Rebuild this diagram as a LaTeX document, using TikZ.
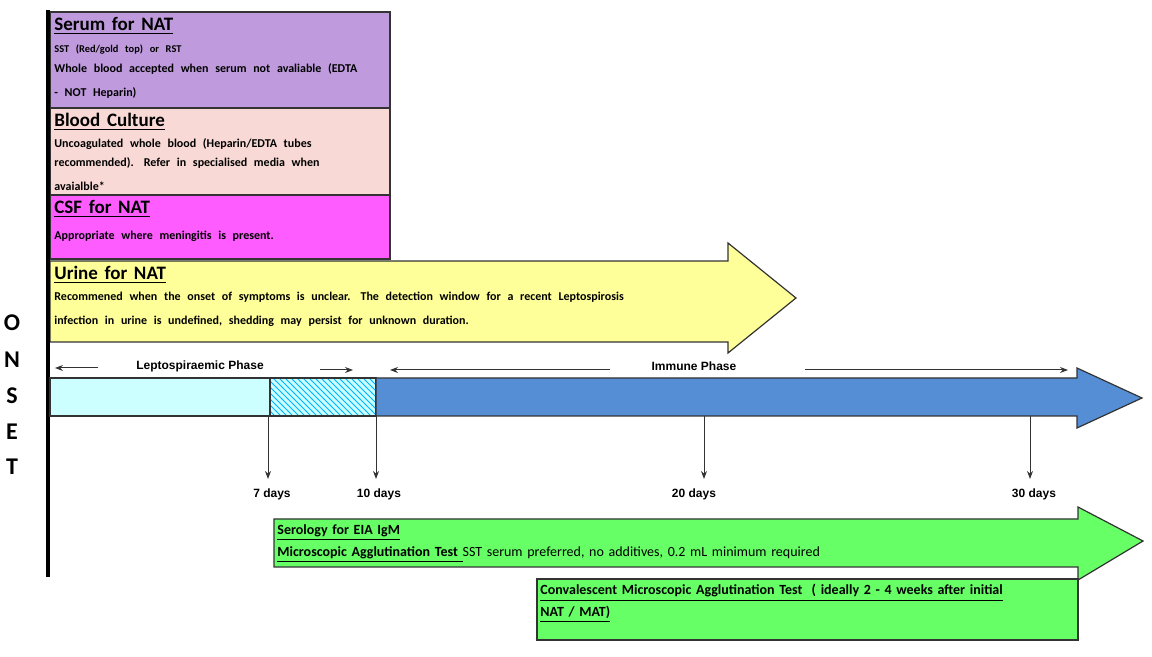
\documentclass[tikz,border=0pt]{standalone}
\usepackage{fontspec}
\setmainfont{Carlito}
\newfontfamily\arialfont{Liberation Sans}
\usetikzlibrary{patterns,arrows.meta}
\definecolor{serumpurple}{HTML}{BF9BDE}
\definecolor{culturepink}{HTML}{F8D9D5}
\definecolor{csfmagenta}{HTML}{FF5CFF}
\definecolor{urineyellow}{HTML}{FFFF99}
\definecolor{leptocyan}{HTML}{CCFFFF}
\definecolor{immuneblue}{HTML}{558ED5}
\definecolor{serogreen}{HTML}{66FF66}
\begin{document}
\begin{tikzpicture}[x=0.5pt, y=-0.5pt,
		sample/.style={draw=black!80, line width=0.6pt},
		boxtext/.style={anchor=north west, align=left, inner sep=1pt, text width=#1},
		phase/.style={font=\arialfont\bfseries\fontsize{6}{7}\selectfont, inner sep=1pt},
		day/.style={font=\arialfont\bfseries\fontsize{6}{7}\selectfont, inner sep=1pt},
		tick/.style={-{Stealth[length=4pt,width=3pt]}, black!80, line width=0.5pt},
		onset/.style={font=\bfseries\fontsize{12}{12}\selectfont}]
		\useasboundingbox (0,0) rectangle (1152,657);
		% sample boxes
		\draw[sample, fill=serumpurple] (50,12) rectangle (390,108);
		\draw[sample, fill=culturepink] (50,108) rectangle (390,195);
		\draw[sample, fill=csfmagenta] (50,195) rectangle (390,259);
		\draw[sample, fill=urineyellow] (50,261) -- (728,261) -- (728,243) -- (796,298) -- (728,353) -- (728,342) -- (50,342) -- cycle;
		\node[boxtext=330pt] (serum) at (52,15) {\fontsize{9.5}{10}\selectfont\bfseries\underline{Serum for NAT}\\[1pt]
			\fontsize{5.2}{10}\selectfont SST (Red/gold top) or RST\\
			\fontsize{6}{10}\selectfont Whole blood accepted when serum not avaliable (EDTA\\- NOT Heparin)};
		\node[boxtext=330pt] (culture) at (52,111) {\fontsize{9.5}{10}\selectfont\bfseries\underline{Blood Culture}\\[1pt]
			\fontsize{6}{9.5}\selectfont Uncoagulated whole blood (Heparin/EDTA tubes\\recommended). Refer in specialised media when\\avaialble*};
		\node[boxtext=330pt] (csf) at (52,198) {\fontsize{9.5}{10}\selectfont\bfseries\underline{CSF for NAT}\\[1pt]
			\fontsize{6}{9.5}\selectfont Appropriate where meningitis is present.};
		\node[boxtext=660pt] (urine) at (52,264) {\fontsize{9.5}{10}\selectfont\bfseries\underline{Urine for NAT}\\[1pt]
			\fontsize{6}{9.5}\selectfont Recommened when the onset of symptoms is unclear. The detection window for a recent Leptospirosis\\infection in urine is undefined, shedding may persist for unknown duration.};
		% onset line
		\draw[line width=2pt] (48,10) -- (48,577);
		\foreach \ch/\y in {O/323, N/360, S/396, E/432, T/467}
			\node[onset] (onset\ch) at (12,\y) {\ch};
		% timeline
		\draw[sample, fill=leptocyan] (50,378) rectangle (270,416);
		\draw[sample, fill=leptocyan] (270,378) rectangle (376,416);
		\fill[pattern={north west lines}, pattern color=cyan!70!blue] (270,378) rectangle (376,416);
		\draw[sample] (270,378) rectangle (376,416);
		\draw[sample, fill=immuneblue] (376,378) -- (1077,378) -- (1077,368) -- (1142,398) -- (1077,428) -- (1077,416) -- (376,416) -- cycle;
		\node[phase] (lepto) at (200,366) {Leptospiraemic Phase};
		\node[phase] (immune) at (694,366) {Immune Phase};
		\coordinate (lepL) at (55,368);
		\coordinate (lepR) at (353,370);
		\coordinate (immL) at (390,370);
		\coordinate (immR) at (1068,370);
		\draw[tick] (98,368) -- (lepL);
		\draw[tick] (320,370) -- (lepR);
		\draw[tick] (610,370) -- (immL);
		\draw[tick] (805,370) -- (immR);
		% days
		\foreach \x/\lbl/\dx in {268/7/4, 376/10/3, 704/20/-10, 1030/30/4} {
			\coordinate (top\lbl) at (\x,416);
			\coordinate (end\lbl) at (\x,479);
			\draw[tick] (top\lbl) -- (end\lbl);
			\node[day] (day\lbl) at (\x+\dx,494) {\lbl\ days};
		}
		% serology
		\draw[sample, fill=serogreen] (274,519) -- (1078,519) -- (1078,507) -- (1143,541) -- (1078,580) -- (1078,567) -- (274,567) -- cycle;
		\node[boxtext=420pt, font=\fontsize{7}{11}\selectfont] (sero) at (275,522) {\underline{\bfseries Serology for EIA IgM}\\
			\underline{\bfseries Microscopic Agglutination Test\ }SST serum preferred, no additives, 0.2 mL minimum required};
		\draw[sample, fill=serogreen] (537,579) rectangle (1078,640);
		\node[boxtext=268pt, font=\fontsize{7}{11}\selectfont\bfseries] (conv) at (538,582) {\underline{Convalescent Microscopic Agglutination Test\ \ ( ideally 2 - 4 weeks after initial}\\\underline{NAT / MAT)}};
\end{tikzpicture}
\end{document}
